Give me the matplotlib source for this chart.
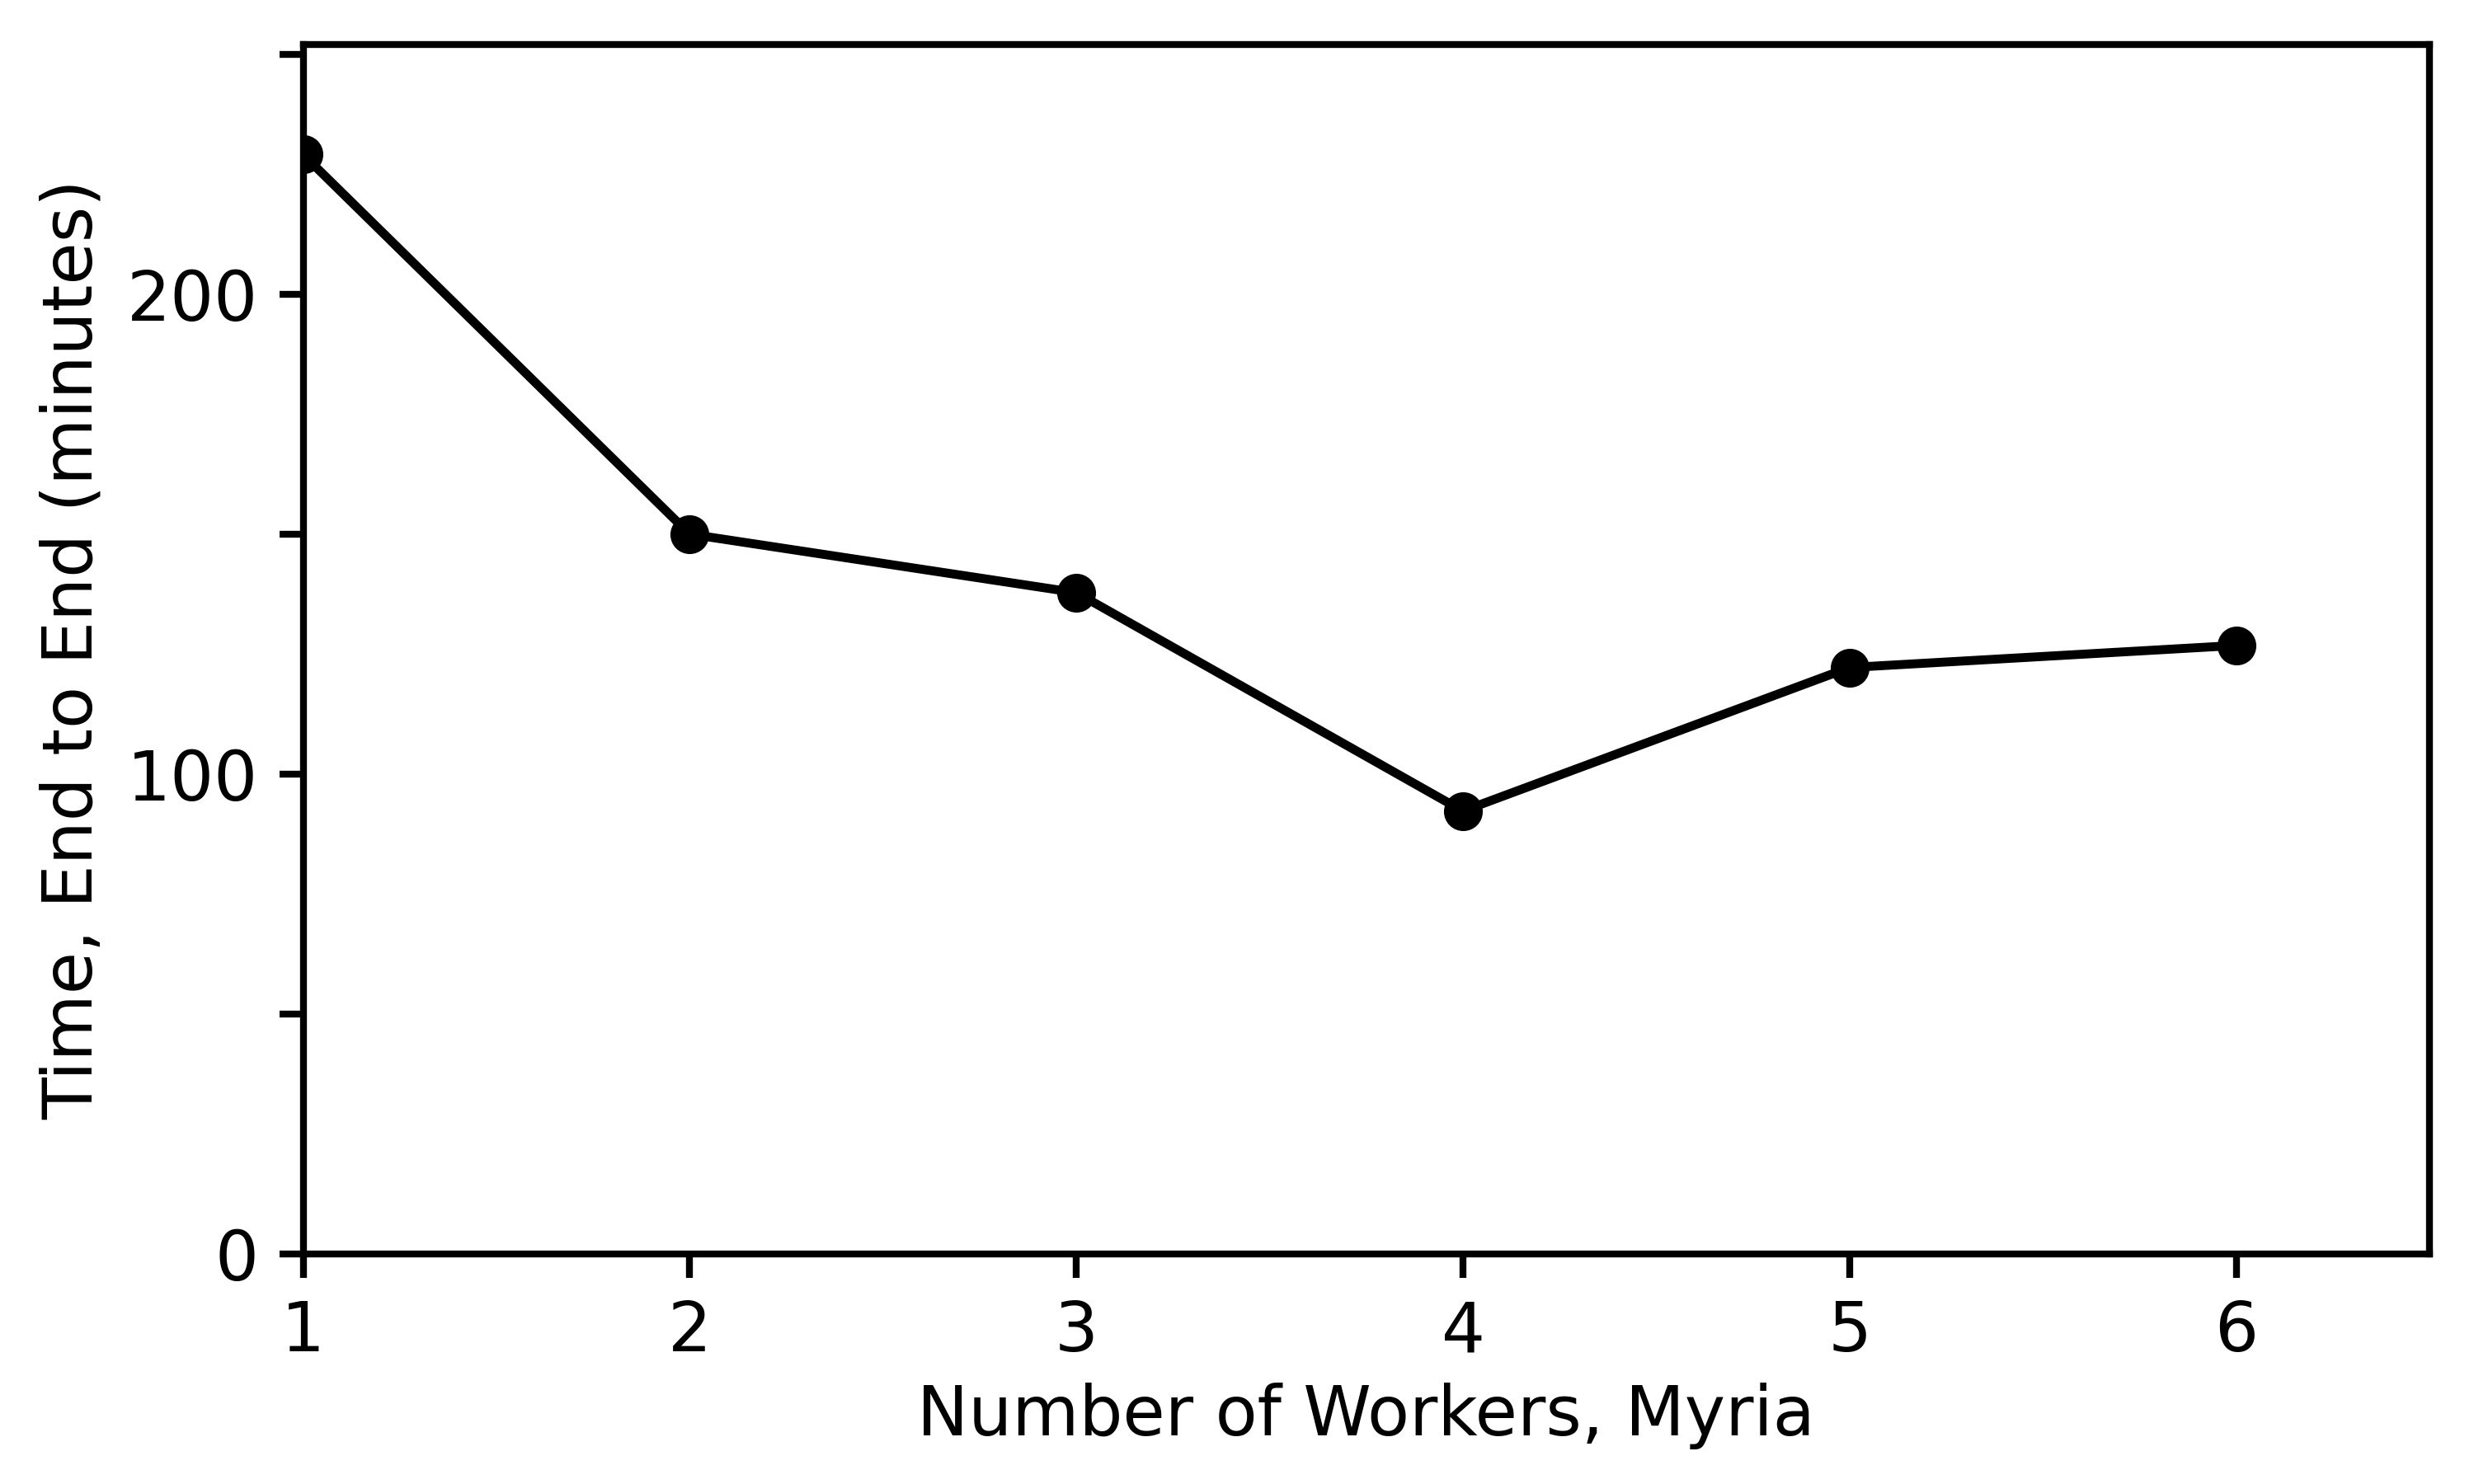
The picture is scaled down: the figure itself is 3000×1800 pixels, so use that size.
import matplotlib
matplotlib.use("Agg")
import matplotlib.pyplot as plt

workers = [1, 2, 3, 4, 5, 6]
minutes = [229.1, 150.0, 137.8, 92.3, 122.2, 126.8]
y_ticks = [0, 50, 100, 150, 200, 250]
y_ticklabels = ["0", "", "100", "", "200", ""]

plt.rcParams['font.family'] = ['DejaVu Sans']

fig = plt.figure(figsize=(10, 6), dpi=300)
ax = fig.add_axes([0.1225, 0.155, 0.982 - 0.1225, 0.97 - 0.155])

ax.plot(workers, minutes, color='black', linewidth=2.6, marker='o', markersize=10.3)

ax.set_xlim(1, 6.5)
ax.set_ylim(0, max(minutes) * 1.1)
ax.set_xticks(workers)
ax.set_yticks(y_ticks)
ax.set_yticklabels(y_ticklabels)

for s in ax.spines.values():
    s.set_linewidth(2.0)
ax.tick_params(axis='both', which='major', length=7, width=2.0, labelsize=20, pad=6, direction='out')

ax.set_xlabel("Number of Workers, Myria", fontsize=20, labelpad=5)
ax.set_ylabel("Time, End to End (minutes)", fontsize=20, labelpad=6)

fig.savefig("out.png", dpi=300)
